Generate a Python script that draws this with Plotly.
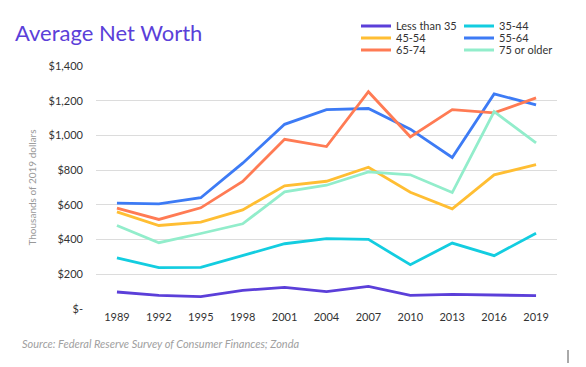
import plotly.graph_objects as go

years = ["1989", "1992", "1995", "1998", "2001", "2004", "2007", "2010", "2013", "2016", "2019"]
less_than_35 = [98, 79, 71, 107, 125, 100, 130, 79, 84, 81, 77]
age_35_44 = [295, 238, 240, 309, 376, 405, 401, 255, 380, 307, 437]
age_45_54 = [560, 481, 500, 571, 710, 736, 817, 673, 577, 773, 832]
age_55_64 = [610, 606, 641, 840, 1064, 1149, 1155, 1036, 873, 1239, 1176]
age_65_74 = [581, 516, 583, 735, 978, 936, 1252, 992, 1149, 1130, 1216]
age_75_plus = [481, 382, 435, 491, 675, 713, 790, 773, 671, 1137, 957]

tick_vals = [0, 200, 400, 600, 800, 1000, 1200, 1400]
tick_text = ["$-", "$200", "$400", "$600", "$800", "$1,000", "$1,200", "$1,400"]

series = [
    ("Less than 35", less_than_35, "#5B3FD9"),
    ("35-44", age_35_44, "#13CDE0"),
    ("45-54", age_45_54, "#FFBE33"),
    ("55-64", age_55_64, "#3D7BF5"),
    ("65-74", age_65_74, "#FF7B54"),
    ("75 or older", age_75_plus, "#92EDCB"),
]

# plot area in pixels
L, R, T, B = 96, 557, 66, 309
PW, PH = R - L, B - T

def px_x(x):
    return (x - L) / PW

def px_y(y):
    return (B - y) / PH

legend_names = ["legend", "legend2", "legend3", "legend4", "legend5", "legend6"]
legend_pos = [(356, 26), (459, 26), (356, 38), (459, 38), (356, 50), (459, 50)]

font_family = "Lato, 'Noto Sans', sans-serif"

fig = go.Figure()
for (name, vals, color), lg in zip(series, legend_names):
    fig.add_trace(go.Scatter(x=years, y=vals, name=name, mode="lines",
                             line=dict(color=color, width=2.8), legend=lg))

legends = {}
for lg, (lx, ly) in zip(legend_names, legend_pos):
    legends[lg] = dict(orientation="v", bgcolor="rgba(0,0,0,0)", visible=True,
                       font=dict(size=11, color="#333333", family=font_family),
                       itemwidth=30, xanchor="left", yanchor="middle",
                       x=px_x(lx), y=px_y(ly), borderwidth=0)

fig.update_layout(
    width=586, height=367,
    showlegend=True,
    margin=dict(l=L, r=586 - R, t=T, b=367 - B, autoexpand=False),
    paper_bgcolor="white", plot_bgcolor="white",
    font=dict(family=font_family, color="#333333"),
    title=dict(text="Average Net Worth", x=15 / 586, xanchor="left", y=1 - 33 / 367, yanchor="middle",
               font=dict(size=22, color="#5B3FD9", family=font_family)),
    xaxis=dict(type="category", range=[-0.5, 10.5], showgrid=False, showline=False, ticks="",
               tickfont=dict(size=11, color="#333333"), automargin=False),
    yaxis=dict(range=[0, 1400], tickvals=tick_vals, ticktext=tick_text, showgrid=True,
               gridcolor="#DCDCDC", gridwidth=1, zeroline=False, showline=False, ticks="",
               tickfont=dict(size=11, color="#333333"), ticklabelstandoff=12, automargin=False,
               title=dict(text="Thousands of 2019 dollars", font=dict(size=10, color="#999999"), standoff=10)),
    annotations=[dict(text="<i>Source: Federal Reserve Survey of Consumer Finances; Zonda</i>",
                      xref="paper", yref="paper", x=px_x(20), y=px_y(343),
                      xanchor="left", yanchor="middle", showarrow=False,
                      font=dict(size=11, color="#A0A0A0", family=font_family))],
    shapes=[dict(type="line", xref="paper", yref="paper", x0=px_x(568), x1=px_x(568),
                 y0=px_y(350), y1=px_y(363), line=dict(color="#555555", width=1))],
    **legends,
)

fig.write_html("out.html", config={"displayModeBar": False},
               post_script="document.body.style.margin='0';")
